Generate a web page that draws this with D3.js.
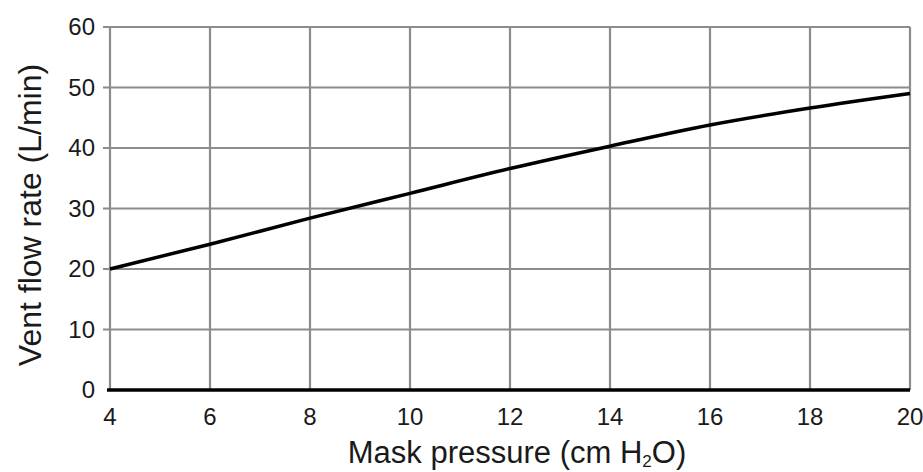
<!DOCTYPE html>
<html>
<head>
<meta charset="utf-8">
<script src="https://cdn.jsdelivr.net/npm/d3@7"></script>
<style>
  body { margin: 0; background: #fff; }
  svg text { font-family: "Liberation Sans", Arial, sans-serif; fill: #1a1a1a; }
</style>
</head>
<body>
<div id="chart"></div>
<script>
// Mask pressure (cm H2O) vs vent flow rate (L/min)
var pressure = [4, 6, 8, 10, 12, 14, 16, 18, 20];
var flowRate = [20, 24.1, 28.4, 32.5, 36.6, 40.3, 43.8, 46.6, 49];
var xTicks = [4, 6, 8, 10, 12, 14, 16, 18, 20];
var yTicks = [0, 10, 20, 30, 40, 50, 60];

(function() {
  var width = 923, height = 472;
  var margin = { top: 27, right: 13, bottom: 82, left: 110 };

  var svg = d3.select('#chart').append('svg')
    .attr('width', width)
    .attr('height', height);

  var x = d3.scaleLinear().domain([4, 20]).range([margin.left, width - margin.right]);
  var y = d3.scaleLinear().domain([0, 60]).range([height - margin.bottom, margin.top]);

  // grid
  var grid = svg.append('g').attr('stroke', '#8c8c8c').attr('stroke-width', 2.2);

  grid.selectAll('.hg').data(yTicks.filter(function(d) { return d > 0; }))
    .enter().append('line')
    .attr('x1', x(4) - 7).attr('x2', x(20))
    .attr('y1', function(d) { return y(d); })
    .attr('y2', function(d) { return y(d); });

  grid.selectAll('.vg').data(xTicks)
    .enter().append('line')
    .attr('x1', function(d) { return x(d); })
    .attr('x2', function(d) { return x(d); })
    .attr('y1', y(60)).attr('y2', y(0));

  // bottom axis line
  svg.append('line')
    .attr('x1', x(4) - 3).attr('x2', x(20))
    .attr('y1', y(0)).attr('y2', y(0))
    .attr('stroke', '#000').attr('stroke-width', 3.5);

  // y labels
  svg.selectAll('.yl').data(yTicks)
    .enter().append('text')
    .attr('x', x(4) - 15)
    .attr('y', function(d) { return y(d); })
    .attr('dy', '0.35em')
    .attr('text-anchor', 'end')
    .attr('font-size', 24)
    .text(function(d) { return d; });

  // x labels
  svg.selectAll('.xl').data(xTicks)
    .enter().append('text')
    .attr('x', function(d) { return x(d); })
    .attr('y', 425)
    .attr('text-anchor', 'middle')
    .attr('font-size', 24)
    .text(function(d) { return d; });

  // curve
  var line = d3.line()
    .x(function(d, i) { return x(pressure[i]); })
    .y(function(d) { return y(d); })
    .curve(d3.curveMonotoneX);

  svg.append('path')
    .attr('d', line(flowRate))
    .attr('fill', 'none')
    .attr('stroke', '#000')
    .attr('stroke-width', 3.5);

  // axis titles
  var xt = svg.append('text')
    .attr('x', 517)
    .attr('y', 463)
    .attr('text-anchor', 'middle')
    .attr('font-size', 31);
  xt.append('tspan').text('Mask pressure (cm H');
  xt.append('tspan').attr('font-size', 17).attr('dy', 4).text('2');
  xt.append('tspan').attr('dy', -4).text('O)');

  svg.append('text')
    .attr('transform', 'translate(41,215) rotate(-90)')
    .attr('text-anchor', 'middle')
    .attr('font-size', 32)
    .text('Vent flow rate (L/min)');
})();
</script>
</body>
</html>
